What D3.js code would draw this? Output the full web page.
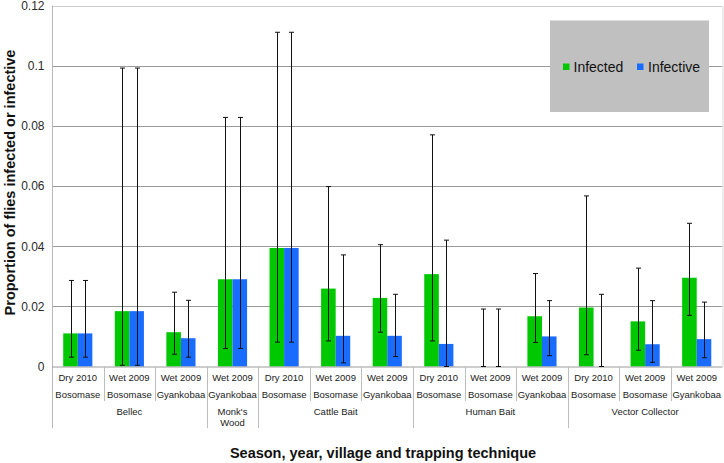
<!DOCTYPE html>
<html>
<head>
<meta charset="utf-8">
<script src="https://cdn.jsdelivr.net/npm/d3@7"></script>
<style>
  html, body { margin: 0; padding: 0; background: #fff; }
  svg { display: block; font-family: "Liberation Sans", Arial, sans-serif; }
</style>
</head>
<body>
<svg id="chart" width="724" height="463"></svg>
<script>
// ---- data ----
const seasons = ["Dry 2010","Wet 2009","Wet 2009","Wet 2009","Dry 2010","Wet 2009","Wet 2009","Dry 2010","Wet 2009","Wet 2009","Dry 2010","Wet 2009","Wet 2009"];
const villages = ["Bosomase","Bosomase","Gyankobaa","Gyankobaa","Bosomase","Bosomase","Gyankobaa","Bosomase","Bosomase","Gyankobaa","Bosomase","Bosomase","Gyankobaa"];
const techniqueNames = [["Bellec"],["Monk's","Wood"],["Cattle Bait"],["Human Bait"],["Vector Collector"]];
const techniqueSpans = [3,1,3,3,3];

const seriesNames = ["Infected","Infective"];
const infected      = [0.0110,0.0184,0.0114,0.0290,0.0394,0.0259,0.0228,0.0307,0,0.0167,0.0196,0.0150,0.0295];
const infectedLow   = [0.0031,0.0004,0.0041,0.0060,0.0081,0.0085,0.0114,0.0085,0,0.0080,0.0039,0.0054,0.0170];
const infectedHigh  = [0.0286,0.0992,0.0247,0.0828,0.1111,0.0598,0.0405,0.0770,0.0191,0.0309,0.0567,0.0327,0.0476];
const infective     = [0.0110,0.0184,0.0094,0.0290,0.0394,0.0102,0.0102,0.0075,0,0.0100,0,0.0074,0.0091];
const infectiveLow  = [0.0031,0.0004,0.0031,0.0060,0.0081,0.0012,0.0033,0,0,0.0036,0,0.0014,0.0029];
const infectiveHigh = [0.0286,0.0992,0.0220,0.0828,0.1111,0.0371,0.0240,0.0420,0.0191,0.0219,0.0240,0.0219,0.0214];
const yTicks = [0,0.02,0.04,0.06,0.08,0.1,0.12];

const colors = ["#00c800","#1a6cff"];

// ---- layout ----
const svg = d3.select("#chart");
const pLeft = 52, pRight = 722.5, pTop = 5.5, pBottom = 366.5;

const idx = d3.range(seasons.length);
const x = d3.scaleBand().domain(idx).range([pLeft, pRight]).paddingInner(0).paddingOuter(0);
const y = d3.scaleLinear().domain([0, 0.12]).range([pBottom, pTop]);
const groupW = x.bandwidth() * 0.565;
const xs = d3.scaleBand().domain(seriesNames).range([0, groupW]);

const series = [
  {name: "Infected", v: infected, lo: infectedLow, hi: infectedHigh},
  {name: "Infective", v: infective, lo: infectiveLow, hi: infectiveHigh}
];

// gridlines
svg.append("g").selectAll("line").data(yTicks.filter(d => d > 0)).join("line")
  .attr("x1", pLeft).attr("x2", pRight)
  .attr("y1", d => Math.round(y(d)) + 0.5).attr("y2", d => Math.round(y(d)) + 0.5)
  .attr("stroke", d => d === 0.12 ? "#cfcfcf" : "#9a9a9a").attr("stroke-width", 1);

// right border
svg.append("line").attr("x1", pRight + 0.5).attr("x2", pRight + 0.5)
  .attr("y1", Math.round(y(0.12)) + 0.5).attr("y2", pBottom).attr("stroke", "#d8d8d8");

// y axis
const yAxis = d3.axisLeft(y).tickValues(yTicks).tickSize(0).tickPadding(8)
  .tickFormat(d => d === 0 ? "0" : String(+d.toFixed(2)));
const yg = svg.append("g").attr("transform", `translate(${pLeft + 0.5},0)`).call(yAxis);
yg.select(".domain").remove();
yg.selectAll(".tick line").remove();
yg.selectAll(".tick text").attr("font-size", 12).attr("fill", "#2a2a2a")
  .attr("font-family", "Liberation Sans, Arial, sans-serif");

// y axis line
svg.append("line").attr("x1", pLeft + 0.5).attr("x2", pLeft + 0.5)
  .attr("y1", pTop).attr("y2", 428).attr("stroke", "#b8b8b8");

// legend box
const lg = svg.append("g");
lg.append("rect").attr("x", 550).attr("y", 20.5).attr("width", 159).attr("height", 91.5).attr("fill", "#c0c0c0");
const legendX = [563, 637];
const legendTX = [573.5, 648];
seriesNames.forEach((s, i) => {
  lg.append("rect").attr("x", legendX[i]).attr("y", 63.5).attr("width", 6.5).attr("height", 6.5).attr("fill", colors[i]);
  lg.append("text").attr("x", legendTX[i]).attr("y", 72).attr("font-size", 14).attr("fill", "#111").text(s);
});

// bars
series.forEach((s, si) => {
  svg.append("g").selectAll("rect").data(idx).join("rect")
    .attr("x", i => x(i) + (x.bandwidth() - groupW) / 2 + xs(s.name))
    .attr("width", xs.bandwidth())
    .attr("y", i => y(s.v[i]))
    .attr("height", i => y(0) - y(s.v[i]))
    .attr("fill", colors[si]);
});

// x axis baseline
svg.append("line").attr("x1", pLeft).attr("x2", pRight).attr("y1", pBottom + 0.5).attr("y2", pBottom + 0.5).attr("stroke", "#9a9a9a");

// error bars
series.forEach((s, si) => {
  const g = svg.append("g").attr("stroke", "#111").attr("stroke-width", 1);
  idx.forEach(i => {
    const cx = Math.round(x(i) + (x.bandwidth() - groupW) / 2 + xs(s.name) + xs.bandwidth() / 2) + 0.5;
    const y1 = y(s.hi[i]), y2 = y(s.lo[i]);
    g.append("line").attr("x1", cx).attr("x2", cx).attr("y1", y1).attr("y2", y2);
    g.append("line").attr("x1", cx - 2.5).attr("x2", cx + 2.5).attr("y1", y1).attr("y2", y1);
    g.append("line").attr("x1", cx - 2.5).attr("x2", cx + 2.5).attr("y1", y2).attr("y2", y2);
  });
});

// x category labels
const xl = svg.append("g").attr("font-size", 9.5).attr("fill", "#222").attr("text-anchor", "middle");
idx.forEach(i => {
  const cx = x(i) + x.bandwidth() / 2;
  xl.append("text").attr("x", cx).attr("y", 380.5).text(seasons[i]);
  xl.append("text").attr("x", cx).attr("y", 397.5).text(villages[i]);
});

// separators
const groupEnds = [];
let acc = 0;
techniqueSpans.forEach(n => { acc += n; groupEnds.push(acc); });
const sep = svg.append("g").attr("stroke", "#bdbdbd");
idx.slice(1).forEach(i => {
  const isGroup = groupEnds.includes(i);
  const sx = Math.round(x(i)) + 0.5;
  sep.append("line").attr("x1", sx).attr("x2", sx).attr("y1", pBottom).attr("y2", isGroup ? 428 : 401);
});

// technique labels
let start = 0;
techniqueNames.forEach((lines, gi) => {
  const n = techniqueSpans[gi];
  const cx = (x(start) + x(start + n - 1) + x.bandwidth()) / 2;
  lines.forEach((t, li) => {
    xl.append("text").attr("x", cx).attr("y", 415 + li * 11).text(t);
  });
  start += n;
});

// axis titles
svg.append("text").attr("x", 383).attr("y", 458).attr("text-anchor", "middle")
  .attr("font-size", 14.5).attr("font-weight", "bold").attr("fill", "#111")
  .text("Season, year, village and trapping technique");
svg.append("text").attr("transform", "translate(15,182.5) rotate(-90)").attr("text-anchor", "middle")
  .attr("font-size", 14.5).attr("font-weight", "bold").attr("fill", "#111")
  .text("Proportion of flies infected or infective");
</script>
</body>
</html>
